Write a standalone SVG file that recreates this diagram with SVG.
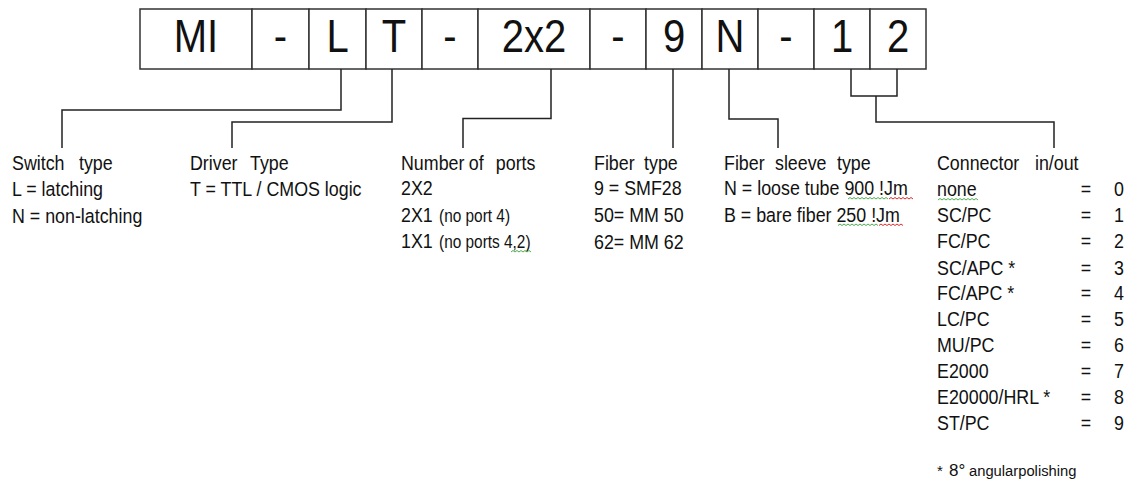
<svg xmlns="http://www.w3.org/2000/svg" width="1130" height="481" viewBox="0 0 1130 481">
<style>
text{font-family:"Liberation Sans",Arial,sans-serif;fill:#111}
.cell rect{fill:#fff;stroke:#333;stroke-width:1.5}
.code{font-size:46px;text-anchor:middle}
.t{font-size:20.5px}
.s{font-size:17.7px}
.m{text-anchor:middle}
.conn path{fill:none;stroke:#222;stroke-width:1.5}
.sq{fill:none;stroke-width:1}
.g{stroke:#4caf50}
.r{stroke:#e02b2b}
</style>
<rect width="1130" height="481" fill="#fff"/>
<g id="code">
<g id="cell-MI" class="cell"><rect x="140" y="9" width="112" height="60"/><text class="code" transform="translate(196 52) scale(.87 1)">MI</text></g>
<g id="cell-dash1" class="cell"><rect x="252" y="9" width="57" height="60"/><text class="code" transform="translate(280.5 52) scale(.87 1)">-</text></g>
<g id="cell-L" class="cell"><rect x="309" y="9" width="57" height="60"/><text class="code" transform="translate(337.5 52) scale(.87 1)">L</text></g>
<g id="cell-T" class="cell"><rect x="366" y="9" width="56" height="60"/><text class="code" transform="translate(394 52) scale(.87 1)">T</text></g>
<g id="cell-dash2" class="cell"><rect x="422" y="9" width="56" height="60"/><text class="code" transform="translate(450 52) scale(.87 1)">-</text></g>
<g id="cell-2x2" class="cell"><rect x="478" y="9" width="112" height="60"/><text class="code" transform="translate(534 52) scale(.87 1)">2x2</text></g>
<g id="cell-dash3" class="cell"><rect x="590" y="9" width="56" height="60"/><text class="code" transform="translate(618 52) scale(.87 1)">-</text></g>
<g id="cell-9" class="cell"><rect x="646" y="9" width="56" height="60"/><text class="code" transform="translate(674 52) scale(.87 1)">9</text></g>
<g id="cell-N" class="cell"><rect x="702" y="9" width="56" height="60"/><text class="code" transform="translate(730 52) scale(.87 1)">N</text></g>
<g id="cell-dash4" class="cell"><rect x="758" y="9" width="56" height="60"/><text class="code" transform="translate(786 52) scale(.87 1)">-</text></g>
<g id="cell-1" class="cell"><rect x="814" y="9" width="56" height="60"/><text class="code" transform="translate(842 52) scale(.87 1)">1</text></g>
<g id="cell-2" class="cell"><rect x="870" y="9" width="56" height="60"/><text class="code" transform="translate(898 52) scale(.87 1)">2</text></g>
</g>
<g id="connectors" class="conn">
<path d="M341 69V110H62V148"/>
<path d="M392 69V122H232V148"/>
<path d="M551 69V118.5H463V148"/>
<path d="M673 69V148"/>
<path d="M729 69V119H778V148"/>
<path d="M851 69V96H897V69"/>
<path d="M876 96V122H1054V148"/>
</g>
<g id="switch-type" transform="translate(12 0) scale(.87 1)">
<text class="t" y="170">Switch<tspan x="77">type</tspan></text>
<text class="t" y="196.5">L = latching</text>
<text class="t" y="223">N = non-latching</text>
</g>
<g id="driver-type" transform="translate(190 0) scale(.87 1)">
<text class="t" y="170">Driver<tspan x="69">Type</tspan></text>
<text class="t" y="196.5">T = TTL / CMOS logic</text>
</g>
<g id="number-of-ports" transform="translate(401 0) scale(.87 1)">
<text class="t" y="170">Number<tspan x="78">of</tspan><tspan x="109">ports</tspan></text>
<text class="t" y="195.5">2X2</text>
<text class="t" y="222.5">2X1</text>
<text class="s" x="43.7" y="222.5">(no port 4)</text>
<text class="t" y="248.5">1X1</text>
<text class="s" x="43.7" y="248.5">(no ports 4,2)</text>
</g>
<g id="fiber-type" transform="translate(594 0) scale(.87 1)">
<text class="t" y="170">Fiber<tspan x="57.5">type</tspan></text>
<text class="t" y="195.5">9 = SMF28</text>
<text class="t" y="222.5">50= MM 50</text>
<text class="t" y="249">62= MM 62</text>
</g>
<g id="fiber-sleeve-type" transform="translate(724 0) scale(.87 1)">
<text class="t" y="170.5">Fiber<tspan x="58.6">sleeve</tspan><tspan x="129.9">type</tspan></text>
<text class="t" y="195.5">N = loose tube 900 !Jm</text>
<text class="t" y="222">B = bare fiber 250 !Jm</text>
</g>
<g id="connector-in-out" transform="translate(937 0) scale(.87 1)">
<text class="t" y="170">Connector<tspan x="112.6">in/out</tspan></text>
<text class="t" y="196">none</text><text class="t m" x="171.3" y="196">=</text><text class="t m" x="209.2" y="196">0</text>
<text class="t" y="222">SC/PC</text><text class="t m" x="171.3" y="222">=</text><text class="t m" x="209.2" y="222">1</text>
<text class="t" y="248.5">FC/PC</text><text class="t m" x="171.3" y="248.5">=</text><text class="t m" x="209.2" y="248.5">2</text>
<text class="t" y="275">SC/APC *</text><text class="t m" x="171.3" y="275">=</text><text class="t m" x="209.2" y="275">3</text>
<text class="t" y="300.5">FC/APC *</text><text class="t m" x="171.3" y="300.5">=</text><text class="t m" x="209.2" y="300.5">4</text>
<text class="t" y="326.5">LC/PC</text><text class="t m" x="171.3" y="326.5">=</text><text class="t m" x="209.2" y="326.5">5</text>
<text class="t" y="352.5">MU/PC</text><text class="t m" x="171.3" y="352.5">=</text><text class="t m" x="209.2" y="352.5">6</text>
<text class="t" y="378.5">E2000</text><text class="t m" x="171.3" y="378.5">=</text><text class="t m" x="209.2" y="378.5">7</text>
<text class="t" y="404.5">E20000/HRL *</text><text class="t m" x="171.3" y="404.5">=</text><text class="t m" x="209.2" y="404.5">8</text>
<text class="t" y="430.5">ST/PC</text><text class="t m" x="171.3" y="430.5">=</text><text class="t m" x="209.2" y="430.5">9</text>
</g>
<g id="footnote">
<text x="937" y="476"><tspan font-size="15">*</tspan><tspan x="949" font-size="17">8°</tspan><tspan x="969" font-size="14.75">angularpolishing</tspan></text>
</g>
<g id="spellcheck-marks">
<path class="sq g" d="M848 199l2-1.5 2 1.5 2-1.5 2 1.5 2-1.5 2 1.5 2-1.5 2 1.5 2-1.5 2 1.5 2-1.5 2 1.5 2-1.5 2 1.5 2-1.5 2 1.5 2-1.5 2 1.5 2-1.5 2 1.5"/>
<path class="sq r" d="M889 199l2-1.5 2 1.5 2-1.5 2 1.5 2-1.5 2 1.5 2-1.5 2 1.5 2-1.5 2 1.5 2-1.5 2 1.5"/>
<path class="sq g" d="M838 225.5l2-1.5 2 1.5 2-1.5 2 1.5 2-1.5 2 1.5 2-1.5 2 1.5 2-1.5 2 1.5 2-1.5 2 1.5 2-1.5 2 1.5 2-1.5 2 1.5 2-1.5 2 1.5 2-1.5 2 1.5"/>
<path class="sq r" d="M879 225.5l2-1.5 2 1.5 2-1.5 2 1.5 2-1.5 2 1.5 2-1.5 2 1.5 2-1.5 2 1.5 2-1.5 2 1.5"/>
<path class="sq g" d="M938 200l2-1.5 2 1.5 2-1.5 2 1.5 2-1.5 2 1.5 2-1.5 2 1.5 2-1.5 2 1.5 2-1.5 2 1.5 2-1.5 2 1.5 2-1.5 2 1.5 2-1.5 2 1.5 2-1.5 2 1.5"/>
<path class="sq g" d="M511 252l2-1.5 2 1.5 2-1.5 2 1.5 2-1.5 2 1.5 2-1.5 2 1.5 2-1.5 2 1.5"/>
</g>
</svg>
